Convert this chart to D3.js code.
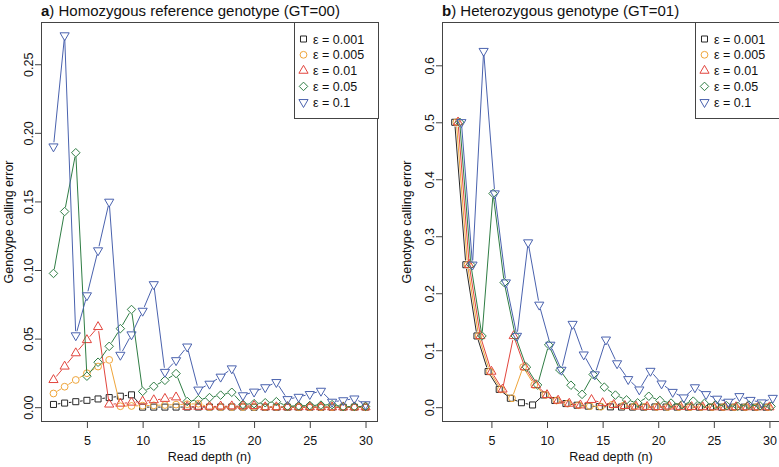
<!DOCTYPE html>
<html><head><meta charset="utf-8">
<script src="https://cdn.jsdelivr.net/npm/d3@7/dist/d3.min.js"></script>
<style>
body{margin:0;background:#fff}
svg{display:block}
text{font-family:"Liberation Sans",Arial,Helvetica,sans-serif;fill:#111}
</style>
</head><body>
<svg id="chart" width="779" height="467"></svg>
<script>
// ---------- data ----------
const depth = [2,3,4,5,6,7,8,9,10,11,12,13,14,15,16,17,18,19,20,21,22,23,24,25,26,27,28,29,30];
const legendLabels = ["ε = 0.001","ε = 0.005","ε = 0.01","ε = 0.05","ε = 0.1"];

// panel a: homozygous reference genotype (GT=00)
const homE001 = [0.0020,0.0030,0.0040,0.0050,0.0060,0.0070,0.0080,0.0090,0.000045,0.000055,0.000066,0.000078,0.000091,0.000105,0.00012,0.000136,0.000153,0.000171,0.000001,0.000001,0.000002,0.000002,0.000002,0.000002,0.000003,0.000003,0.000003,0.000004,0.0];
const homE005 = [0.009975,0.014925,0.01985,0.024751,0.029627,0.034479,0.000686,0.00088,0.001096,0.001335,0.001597,0.001881,0.002188,0.002516,0.0000656,0.0000792,0.0000947,0.000112,0.000131,0.000152,0.000175,0.0002,0.0000066,0.0000079,0.0000093,0.000011,0.000013,0.000015,0.000017];
const homE01  = [0.0199,0.029701,0.039404,0.04901,0.05852,0.002026,0.002689,0.003436,0.004266,0.00518,0.006174,0.007249,0.000336,0.00042,0.00051,0.00062,0.00073,0.00086,0.00101,0.0000505,0.000061,0.0000732,0.0000869,0.000102,0.00012,0.000008,0.0000098,0.0000119,0.0000143];
const homE05  = [0.0975,0.142625,0.185494,0.022592,0.032774,0.044381,0.057245,0.071212,0.011503,0.015236,0.019568,0.024508,0.004174,0.005468,0.007003,0.008801,0.010873,0.002013,0.002573,0.00324,0.004022,0.000753,0.000962,0.001213,0.001511,0.001861,0.000364,0.000459,0.000572];
const homE1   = [0.19,0.271,0.0523,0.08146,0.114265,0.149694,0.038092,0.052973,0.070192,0.089562,0.025638,0.034159,0.044132,0.01272,0.017003,0.022144,0.028193,0.008592,0.011252,0.014444,0.018215,0.005773,0.007455,0.009477,0.011868,0.003871,0.00495,0.006245,0.002018];

// panel b: heterozygous genotype (GT=01)
const hetE001 = [0.5,0.25,0.125,0.0625,0.03125,0.015625,0.0078125,0.0039063,0.021484,0.011719,0.006348,0.003418,0.001831,0.000977,0.000519,0.000275,0.000145,0.0000763,0.000402,0.000221,0.000121,0.000066,0.0000359,0.0000194,0.0000105,0.0000056,0.000003,0.0000016,0.0000084];
const hetE005 = [0.5,0.25,0.125,0.0625,0.03125,0.015625,0.070313,0.039063,0.021484,0.011719,0.006348,0.003418,0.001831,0.000977,0.004181,0.00235,0.001312,0.000729,0.000402,0.000221,0.000121,0.000066,0.000277,0.000157,0.000088,0.0000492,0.0000274,0.0000152,0.0000084];
const hetE01  = [0.5,0.25,0.125,0.0625,0.03125,0.125,0.070313,0.039063,0.021484,0.011719,0.006348,0.003418,0.012939,0.007385,0.004181,0.00235,0.001312,0.000729,0.000402,0.00149,0.000855,0.000488,0.000277,0.000157,0.000088,0.000311,0.00018,0.000104,0.0000595];
const hetE05  = [0.5,0.25,0.125,0.375,0.21875,0.125,0.070313,0.039063,0.109375,0.06543,0.038574,0.022461,0.057373,0.035156,0.021271,0.012726,0.007538,0.019211,0.011818,0.007197,0.004344,0.010622,0.006611,0.004077,0.002494,0.001514,0.003719,0.002316,0.001431];
const hetE1   = [0.5,0.25,0.625,0.375,0.21875,0.125,0.289063,0.179688,0.109375,0.06543,0.145996,0.092285,0.057373,0.118469,0.076813,0.049042,0.030884,0.063568,0.041389,0.026604,0.0169,0.03469,0.022656,0.014633,0.009355,0.019157,0.012541,0.00813,0.016125];

const xTicks = [5,10,15,20,25,30];
const homYTicks = [0,0.05,0.10,0.15,0.20,0.25];
const homYLabels = ["0.00","0.05","0.10","0.15","0.20","0.25"];
const hetYTicks = [0,0.1,0.2,0.3,0.4,0.5,0.6];
const hetYLabels = ["0.0","0.1","0.2","0.3","0.4","0.5","0.6"];

// ---------- styles ----------
const colors = ["#262626","#EFA53A","#E2453D","#2F7D44","#4A62AE"];
const shapes = ["square","circle","triUp","diamond","triDown"];
const U = 3.4; // pch radius unit (px)
const axisCol = "#444";

function symbolPath(shape, x, y){
  if(shape==="square"){ const h=0.886*U; return `M${x-h},${y-h}h${2*h}v${2*h}h${-2*h}Z`; }
  if(shape==="circle"){ const r=U; return `M${x-r},${y}a${r},${r} 0 1,0 ${2*r},0a${r},${r} 0 1,0 ${-2*r},0Z`; }
  if(shape==="diamond"){ const d=1.253*U; return `M${x},${y-d}L${x+d},${y}L${x},${y+d}L${x-d},${y}Z`; }
  const r=1.555*U, xc=1.347*U, yc=0.778*U;
  if(shape==="triUp") return `M${x},${y-r}L${x+xc},${y+yc}L${x-xc},${y+yc}Z`;
  return `M${x},${y+r}L${x+xc},${y-yc}L${x-xc},${y-yc}Z`;
}

const svg = d3.select("#chart");

function panel(cfg){
  const g = svg.append("g");
  const x = d3.scaleLinear().domain(cfg.xDomain).range([cfg.x0, cfg.x1]);
  const y = d3.scaleLinear().domain(cfg.yDomain).range([cfg.y1, cfg.y0]);

  // clip
  const clipId = "clip"+cfg.id;
  svg.append("clipPath").attr("id",clipId).append("rect")
    .attr("x",cfg.x0).attr("y",cfg.y0).attr("width",cfg.x1-cfg.x0).attr("height",cfg.y1-cfg.y0);
  const plot = g.append("g").attr("clip-path",`url(#${clipId})`);

  const gap = 4.3;
  cfg.series.forEach((vals, si) => {
    const pts = depth.map((n,i)=>[x(n + cfg.jitter[si]), y(vals[i])]);
    // type="b" lines: segments with gaps around the points
    let d = "";
    for(let i=0;i<pts.length-1;i++){
      const [ax,ay]=pts[i],[bx,by]=pts[i+1];
      const dx=bx-ax, dy=by-ay, L=Math.hypot(dx,dy);
      if(L>2*gap){
        const ux=dx/L, uy=dy/L;
        d += `M${ax+ux*gap},${ay+uy*gap}L${bx-ux*gap},${by-uy*gap}`;
      }
    }
    plot.append("path").attr("d",d).attr("fill","none")
      .attr("stroke",colors[si]).attr("stroke-width",1);
    plot.append("g").selectAll("path").data(pts).join("path")
      .attr("d",p=>symbolPath(shapes[si],p[0],p[1]))
      .attr("fill","none").attr("stroke",colors[si]).attr("stroke-width",1);
  });

  // box
  g.append("rect").attr("x",cfg.x0+0.5).attr("y",cfg.y0+0.5)
    .attr("width",cfg.x1-cfg.x0-1).attr("height",cfg.y1-cfg.y0-1)
    .attr("fill","none").attr("stroke",axisCol).attr("stroke-width",1);

  // x axis
  const xa = g.append("g").attr("transform",`translate(0,${cfg.y1})`)
    .call(d3.axisBottom(x).tickValues(xTicks).tickSize(6).tickPadding(5).tickFormat(d3.format("d")));
  xa.select(".domain").remove();
  xa.selectAll(".tick line").attr("stroke",axisCol);
  xa.selectAll(".tick text").attr("font-size",12.5).attr("fill","#111")
    .attr("font-family","Liberation Sans, Arial, sans-serif").attr("dy","0.95em");

  // y axis
  const ya = g.append("g").attr("transform",`translate(${cfg.x0},0)`)
    .call(d3.axisLeft(y).tickValues(cfg.yTicks).tickSize(6).tickFormat((d,i)=>cfg.yLabels[i]));
  ya.select(".domain").remove();
  ya.selectAll(".tick line").attr("stroke",axisCol);
  ya.selectAll(".tick text").attr("font-size",12.5).attr("fill","#111")
    .attr("font-family","Liberation Sans, Arial, sans-serif")
    .attr("x",null).attr("dy",null).attr("text-anchor","middle")
    .attr("transform",`translate(${-cfg.yLabOff},0) rotate(-90)`);

  // titles
  const t = g.append("text").attr("x",cfg.x0).attr("y",16).attr("font-size",15);
  t.append("tspan").attr("font-weight","bold").text(cfg.letter);
  t.append("tspan").text(cfg.title);

  g.append("text").attr("x",cfg.xTitleX).attr("y",461).attr("text-anchor","middle")
    .attr("font-size",12.5).text("Read depth (n)");
  g.append("text").attr("transform",`translate(${cfg.yTitleX},${(cfg.y0+cfg.y1)/2}) rotate(-90)`)
    .attr("text-anchor","middle").attr("font-size",12.5).text("Genotype calling error");

  // legend
  const lg = g.append("g");
  lg.append("rect").attr("x",cfg.legX+0.5).attr("y",cfg.y0+0.5)
    .attr("width",cfg.legW).attr("height",96).attr("fill","#fff")
    .attr("stroke",axisCol).attr("stroke-width",1);
  legendLabels.forEach((lab,i)=>{
    const cy = 39 + i*15.8;
    lg.append("path").attr("d",symbolPath(shapes[i],cfg.legX+9.5,cy))
      .attr("fill","none").attr("stroke",colors[i]).attr("stroke-width",1);
    lg.append("text").attr("x",cfg.legX+19).attr("y",cy+4.5).attr("font-size",12.5).text(lab);
  });
}

panel({id:"a", letter:"a", title:") Homozygous reference genotype (GT=00)",
  x0:41, x1:378, y0:22, y1:422, xDomain:[0.88,31.12], yDomain:[-0.0108,0.2808],
  series:[homE001,homE005,homE01,homE05,homE1], jitter:[0,0,0,0,0],
  yTicks:homYTicks, yLabels:homYLabels, yLabOff:8, xTitleX:209.5, yTitleX:13,
  legX:294, legW:84});

panel({id:"b", letter:"b", title:") Heterozygous genotype (GT=01)",
  x0:442, x1:785.5, y0:22, y1:422, xDomain:[0.556,31.444], yDomain:[-0.026,0.676],
  series:[hetE001,hetE005,hetE01,hetE05,hetE1], jitter:[-0.3,-0.15,0,0.15,0.3],
  yTicks:hetYTicks, yLabels:hetYLabels, yLabOff:8.5, xTitleX:611, yTitleX:411,
  legX:695, legW:95});
</script>
</body></html>
